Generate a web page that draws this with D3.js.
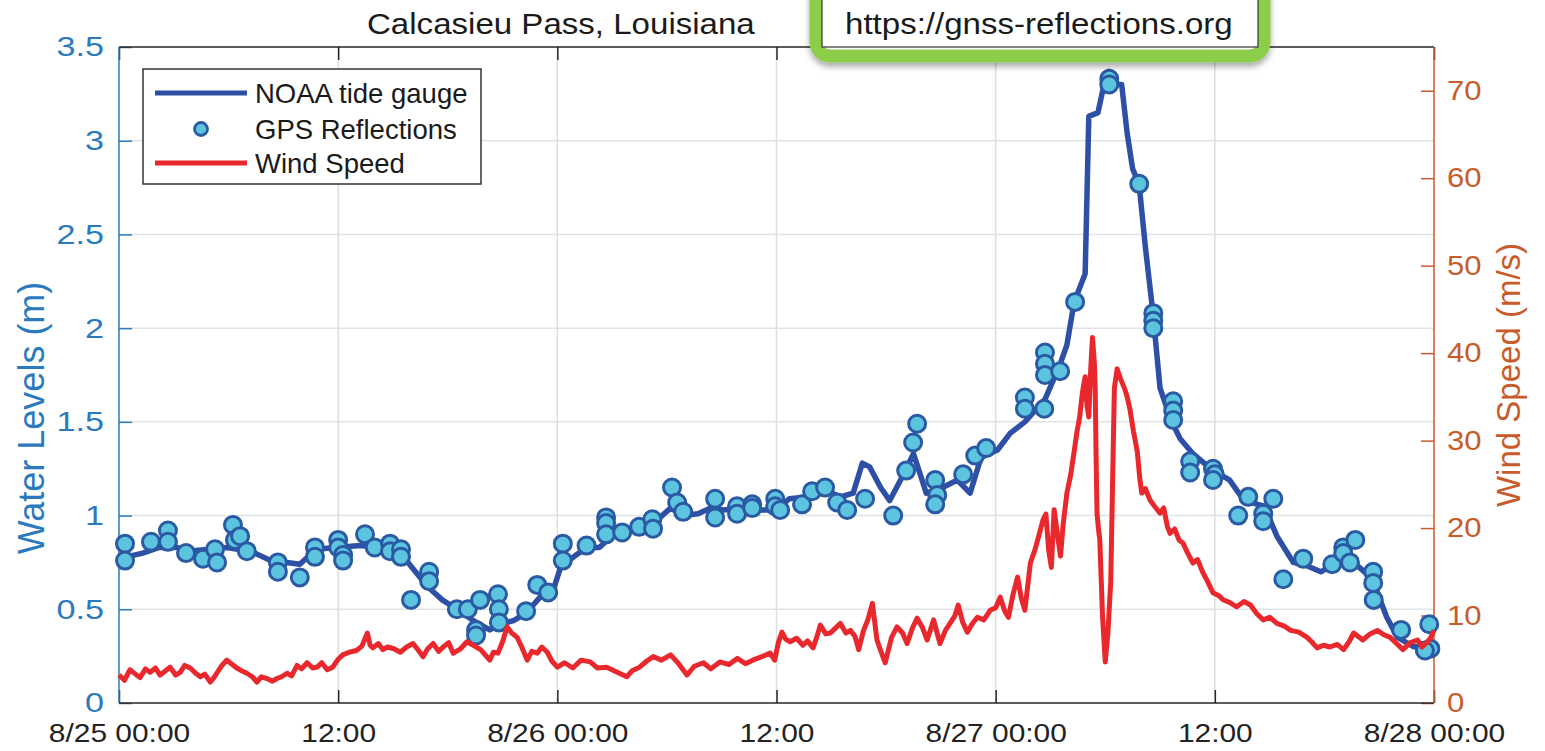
<!DOCTYPE html>
<html>
<head>
<meta charset="utf-8">
<script src="https://cdn.jsdelivr.net/npm/d3@7"></script>
<style>
  body { margin: 0; background: #fff; }
  text { font-family: "Liberation Sans", Arial, Helvetica, sans-serif; }
</style>
</head>
<body>
<div class="canvas"></div>
<script>
// ---- data (hours since 8/25 00:00) ----
const tideHours = [0, 1.3, 2.2, 3.2, 3.7, 5.0, 5.9, 7.2, 8.3, 9.2, 9.9, 10.8, 11.9, 13.2, 14.5, 15.4, 15.9, 16.9, 17.7, 18.5,
  19.4, 20.3, 20.9, 21.6, 22.3, 23.1, 23.8, 24.2, 24.9, 25.6, 26.3, 27.1, 28.5, 29.5, 30.2, 30.9, 31.7, 32.4, 33.1, 34.0,
  35.1, 36.0, 36.7, 37.8, 38.8, 39.5, 40.2, 40.7, 41.1, 41.7, 42.2, 42.9, 43.5, 43.9, 44.2, 45.1, 45.9, 46.6, 47.2, 48.1,
  48.8, 49.6, 50.7, 51.5, 51.9, 52.3, 52.9, 53.1, 53.6, 54.0, 54.2, 54.7, 54.9, 55.2, 55.5, 55.85, 56.2, 56.6, 57.0, 57.6,
  58.1, 58.8, 59.9, 60.8, 61.6, 62.7, 63.4, 64.3, 65.1, 65.8, 66.7, 67.6, 68.3, 68.9, 69.4, 70.0, 70.9, 72.0];
const tideLevel = [0.77, 0.80, 0.83, 0.83, 0.81, 0.82, 0.83, 0.81, 0.76, 0.75, 0.74, 0.82, 0.83, 0.84, 0.83, 0.80, 0.74, 0.62, 0.55, 0.50,
  0.44, 0.39, 0.42, 0.44, 0.48, 0.57, 0.61, 0.73, 0.78, 0.83, 0.83, 0.90, 0.94, 0.98, 1.04, 1.00, 1.01, 1.04, 1.03, 1.04,
  1.03, 1.03, 1.09, 1.10, 1.13, 1.10, 1.12, 1.28, 1.26, 1.15, 1.08, 1.21, 1.33, 1.21, 1.12, 1.15, 1.19, 1.12, 1.31, 1.35,
  1.44, 1.50, 1.62, 1.80, 1.91, 2.14, 2.29, 3.13, 3.15, 3.33, 3.37, 3.30, 3.30, 3.04, 2.85, 2.77, 2.43, 2.09, 1.68, 1.51,
  1.41, 1.33, 1.24, 1.19, 1.08, 1.05, 0.89, 0.75, 0.73, 0.70, 0.75, 0.75, 0.69, 0.59, 0.46, 0.35, 0.30, 0.30];

const gpsHours = [0.33, 0.33, 1.75, 2.68, 2.68, 3.67, 4.6, 5.26, 5.37, 6.24, 6.35, 6.63, 7.0, 8.7, 8.7, 9.9, 10.73, 10.73,
  12.0, 12.0, 12.27, 12.27, 13.47, 14.0, 14.84, 14.84, 15.44, 15.44, 15.99, 16.98, 16.98, 18.5, 19.1, 19.77, 19.55, 19.55,
  20.75, 20.8, 20.8, 22.29, 22.9, 23.5, 24.3, 24.3, 25.6, 26.67, 26.67, 26.67, 27.55, 28.48, 29.2, 29.24, 30.28, 30.56,
  30.89, 32.64, 32.64, 33.84, 33.84, 34.67, 34.67, 35.93, 35.93, 36.2, 37.4, 37.95, 38.66, 39.32, 39.87, 40.85, 42.39,
  43.1, 43.48, 43.7, 44.69, 44.8, 44.69, 46.22, 46.88, 47.48, 49.6, 49.6, 50.66, 50.7, 50.7, 50.7, 51.53, 52.35, 54.22,
  54.22, 55.86, 56.63, 56.63, 56.63, 57.72, 57.72, 57.72, 58.65, 58.65, 59.9, 60.0, 59.9, 61.28, 61.83, 62.65, 62.65,
  63.2, 63.75, 64.84, 66.43, 67.03, 67.03, 67.4, 67.69, 68.67, 68.67, 68.7, 70.2, 71.74, 71.8, 71.5];
const gpsLevel = [0.85, 0.76, 0.86, 0.92, 0.86, 0.80, 0.77, 0.82, 0.75, 0.95, 0.87, 0.89, 0.81, 0.75, 0.70, 0.67, 0.83, 0.78,
  0.87, 0.83, 0.79, 0.76, 0.90, 0.83, 0.85, 0.81, 0.82, 0.78, 0.55, 0.70, 0.65, 0.50, 0.50, 0.55, 0.39, 0.36,
  0.58, 0.50, 0.43, 0.49, 0.63, 0.59, 0.85, 0.76, 0.84, 0.99, 0.96, 0.90, 0.91, 0.94, 0.98, 0.93, 1.15, 1.07,
  1.02, 1.09, 0.99, 1.05, 1.01, 1.06, 1.04, 1.09, 1.05, 1.03, 1.06, 1.13, 1.15, 1.07, 1.03, 1.09, 1.00,
  1.24, 1.39, 1.49, 1.19, 1.11, 1.06, 1.22, 1.32, 1.36, 1.63, 1.57, 1.57, 1.87, 1.81, 1.75, 1.77, 2.14, 3.33,
  3.30, 2.77, 2.08, 2.04, 2.00, 1.61, 1.56, 1.51, 1.29, 1.23, 1.25, 1.22, 1.19, 1.00, 1.10, 1.01, 0.97,
  1.09, 0.66, 0.77, 0.74, 0.83, 0.80, 0.75, 0.87, 0.70, 0.64, 0.55, 0.39, 0.42, 0.29, 0.28];

const windHours = [0.0, 0.3, 0.6, 0.9, 1.15, 1.45, 1.7, 2.0, 2.25, 2.5, 2.8, 3.1, 3.35, 3.6, 3.9, 4.2, 4.45, 4.7, 5.0, 5.2,
  5.35, 5.6, 5.9, 6.2, 6.45, 6.7, 7.0, 7.3, 7.55, 7.8, 8.1, 8.4, 8.65, 8.9, 9.2, 9.45, 9.75, 10.0, 10.3, 10.6,
  10.85, 11.1, 11.4, 11.7, 12.0, 12.25, 12.6, 13.0, 13.3, 13.6, 13.75, 13.9, 14.2, 14.45, 14.7, 15.05, 15.4, 15.75, 16.1, 16.4,
  16.65, 16.9, 17.2, 17.5, 17.75, 18.05, 18.3, 18.7, 19.05, 19.4, 19.8, 20.05, 20.3, 20.5, 20.75, 21.0, 21.25, 21.5, 21.8, 22.05,
  22.35, 22.6, 22.9, 23.15, 23.45, 23.7, 24.0, 24.4, 24.85, 25.3, 25.8, 26.2, 26.7, 27.2, 27.8, 28.1, 28.5, 28.9, 29.25, 29.7,
  30.2, 30.6, 31.1, 31.5, 32.0, 32.4, 32.9, 33.4, 33.85, 34.3, 34.7, 35.2, 35.65, 35.9, 36.1, 36.3, 36.5, 36.75, 37.1, 37.45,
  37.7, 38.0, 38.2, 38.4, 38.7, 38.95, 39.2, 39.5, 39.8, 40.05, 40.3, 40.5, 40.75, 41.0, 41.25, 41.5, 41.7, 41.95, 42.3, 42.6,
  42.9, 43.15, 43.45, 43.7, 44.0, 44.25, 44.6, 44.95, 45.25, 45.5, 45.75, 45.95, 46.2, 46.45, 46.7, 47.0, 47.35, 47.7, 48.0, 48.25,
  48.5, 48.7, 48.95, 49.2, 49.4, 49.6, 49.9, 50.15, 50.45, 50.6, 50.75, 50.9, 51.05, 51.2, 51.4, 51.55, 51.7, 51.9, 52.1, 52.3,
  52.45, 52.6, 52.75, 52.9, 53.0, 53.1, 53.2, 53.3, 53.4, 53.45, 53.5, 53.55, 53.65, 53.7, 53.85, 54.0, 54.15, 54.3, 54.4, 54.5,
  54.65, 54.85, 55.05, 55.2, 55.35, 55.55, 55.75, 55.9, 56.0, 56.2, 56.45, 56.7, 57.0, 57.2, 57.4, 57.55, 57.8, 58.05, 58.25, 58.5,
  58.8, 59.05, 59.35, 59.6, 59.9, 60.2, 60.45, 60.8, 61.2, 61.6, 61.95, 62.3, 62.65, 63.0, 63.4, 63.8, 64.15, 64.6, 65.05, 65.3,
  65.6, 65.95, 66.3, 66.7, 67.05, 67.35, 67.6, 67.85, 68.1, 68.5, 68.9, 69.25, 69.6, 69.95, 70.3, 70.7, 71.1, 71.35, 71.6, 71.8,
  72.0];
const windSpeed = [3.2, 2.6, 3.8, 3.3, 2.9, 3.9, 3.5, 4.0, 3.2, 3.6, 4.1, 3.2, 3.5, 4.3, 4.0, 3.4, 3.0, 3.3, 2.4, 2.9,
  3.4, 4.2, 4.9, 4.4, 4.0, 3.7, 3.4, 3.0, 2.4, 3.0, 2.8, 2.5, 2.8, 3.0, 3.4, 3.1, 4.3, 3.9, 4.6, 4.0,
  4.1, 4.6, 3.8, 4.1, 5.0, 5.5, 5.8, 6.0, 6.5, 8.0, 6.6, 6.3, 6.8, 6.1, 6.4, 6.2, 5.8, 6.4, 6.8, 6.0,
  5.3, 6.2, 6.8, 5.9, 6.4, 6.9, 5.7, 6.2, 7.0, 6.6, 6.1, 5.5, 4.9, 5.8, 5.7, 7.0, 8.7, 8.0, 7.5, 6.4,
  4.9, 5.9, 5.7, 6.4, 5.8, 4.8, 4.1, 4.6, 4.0, 4.9, 4.7, 4.0, 4.1, 3.6, 3.0, 3.7, 4.1, 4.8, 5.3, 4.9,
  5.5, 4.6, 3.2, 4.2, 4.6, 3.9, 4.7, 4.4, 5.1, 4.5, 4.9, 5.3, 5.7, 4.9, 6.9, 8.1, 7.3, 7.0, 7.4, 6.6,
  7.1, 6.3, 7.5, 8.9, 7.9, 8.0, 8.5, 9.1, 8.0, 8.3, 7.6, 6.1, 8.2, 9.5, 11.4, 7.2, 6.0, 4.6, 7.5, 8.7,
  8.0, 6.8, 8.6, 9.7, 8.6, 7.2, 9.5, 6.8, 8.3, 9.1, 9.9, 11.2, 9.2, 8.1, 9.0, 9.8, 9.5, 10.6, 10.9, 12.1,
  10.5, 9.8, 12.4, 14.4, 12.0, 10.6, 16.0, 17.5, 19.8, 21.0, 21.6, 17.5, 15.5, 22.1, 19.0, 16.8, 20.5, 24.0, 26.0, 28.8,
  31.0, 32.7, 35.5, 37.3, 34.0, 32.7, 38.0, 41.8, 39.0, 36.0, 28.0, 21.6, 19.5, 18.7, 10.0, 4.7, 8.1, 13.9, 25.0, 36.0,
  38.2, 37.0, 36.0, 35.0, 33.6, 31.0, 28.8, 25.5, 24.0, 24.5, 23.2, 22.5, 21.7, 22.3, 20.2, 19.4, 19.9, 18.6, 18.3, 17.2,
  16.0, 16.4, 14.9, 13.9, 12.6, 12.3, 11.8, 11.5, 11.0, 11.6, 11.2, 10.2, 9.5, 9.8, 9.1, 8.8, 8.3, 8.1, 7.5, 7.0,
  6.3, 6.6, 6.4, 6.7, 6.1, 7.0, 8.0, 7.6, 7.2, 7.9, 8.3, 7.8, 7.5, 6.8, 6.1, 6.9, 7.2, 6.4, 6.9, 7.4,
  8.3];

const xTickHours = [0, 12, 24, 36, 48, 60, 72];
const leftTicks = [0, 0.5, 1, 1.5, 2, 2.5, 3, 3.5];
const rightTicks = [0, 10, 20, 30, 40, 50, 60, 70];

const leftColor = '#2b7abd';
const rightColor = '#c95b2b';

const t0 = new Date(2020, 7, 25, 0, 0);
const toDate = h => new Date(t0.getTime() + h * 3600 * 1000);

const margin = { top: 47, right: 111, bottom: 48, left: 119 };
const graphWidth = 1545 - margin.left - margin.right;
const graphHeight = 751 - margin.top - margin.bottom;

const svg = d3.select('.canvas')
    .append('svg')
    .attr('width', 1545)
    .attr('height', 751)
    .style('display', 'block');

svg.append('rect').attr('width', 1545).attr('height', 751).attr('fill', '#fff');

const graph = svg.append('g')
    .attr('transform', `translate(${margin.left}, ${margin.top})`);

// widen glyphs a bit (reference text is horizontally stretched)
const stretch = (sel, k) => sel.each(function() {
    const w = this.getComputedTextLength();
    d3.select(this).attr('textLength', w * k).attr('lengthAdjust', 'spacingAndGlyphs');
});

// scales
const x = d3.scaleTime().domain([toDate(0), toDate(72)]).range([0, graphWidth]);
const yL = d3.scaleLinear().domain([0, 3.5]).range([graphHeight, 0]);
const yR = d3.scaleLinear().domain([0, 75]).range([graphHeight, 0]);

// grid
graph.append('g').selectAll('line')
    .data(leftTicks.slice(1, -1))
    .enter().append('line')
    .attr('x1', 0).attr('x2', graphWidth)
    .attr('y1', d => yL(d)).attr('y2', d => yL(d))
    .attr('stroke', '#dfe3e8').attr('stroke-width', 1.5);
graph.append('g').selectAll('line')
    .data(xTickHours.slice(1, -1))
    .enter().append('line')
    .attr('x1', d => x(toDate(d))).attr('x2', d => x(toDate(d)))
    .attr('y1', 0).attr('y2', graphHeight)
    .attr('stroke', '#dedede').attr('stroke-width', 1.5);

// axes
const fmtDay = d3.timeFormat('%-m/%d %H:%M');
const fmtHour = d3.timeFormat('%H:%M');
const xAxis = d3.axisBottom(x)
    .tickValues(xTickHours.map(toDate))
    .tickSize(-13)
    .tickPadding(21)
    .tickFormat(d => d.getHours() === 0 ? fmtDay(d) : fmtHour(d));
const xAxisGroup = graph.append('g')
    .attr('transform', `translate(0, ${graphHeight})`)
    .call(xAxis);
xAxisGroup.select('.domain').remove();
xAxisGroup.selectAll('line').attr('stroke', '#262626').attr('stroke-width', 1.5);
xAxisGroup.selectAll('text')
    .attr('fill', '#222')
    .attr('font-size', 26)
    .style('font-size', '26px');
stretch(xAxisGroup.selectAll('text'), 1.15);

const xTopGroup = graph.append('g')
    .call(d3.axisTop(x).tickValues(xTickHours.map(toDate)).tickSize(-13).tickFormat(''));
xTopGroup.select('.domain').remove();
xTopGroup.selectAll('line').attr('stroke', '#262626').attr('stroke-width', 1.5);

const yAxisGroup = graph.append('g')
    .call(d3.axisLeft(yL).tickValues(leftTicks).tickSize(-13).tickPadding(15).tickFormat(d3.format('')));
yAxisGroup.select('.domain').remove();
yAxisGroup.selectAll('line').attr('stroke', leftColor).attr('stroke-width', 1.5);
yAxisGroup.selectAll('text').attr('fill', leftColor).style('font-size', '28px');
stretch(yAxisGroup.selectAll('text'), 1.22);

const yRightGroup = graph.append('g')
    .attr('transform', `translate(${graphWidth}, 0)`)
    .call(d3.axisRight(yR).tickValues(rightTicks).tickSize(-13).tickPadding(13));
yRightGroup.select('.domain').remove();
yRightGroup.selectAll('line').attr('stroke', rightColor).attr('stroke-width', 1.5);
yRightGroup.selectAll('text').attr('fill', rightColor).style('font-size', '27px');
stretch(yRightGroup.selectAll('text'), 1.15);

// box
graph.append('line').attr('x1', 0).attr('x2', graphWidth).attr('y1', 0).attr('y2', 0)
    .attr('stroke', '#262626').attr('stroke-width', 1.5);
graph.append('line').attr('x1', 0).attr('x2', graphWidth).attr('y1', graphHeight).attr('y2', graphHeight)
    .attr('stroke', '#262626').attr('stroke-width', 1.5);
graph.append('line').attr('x1', 0).attr('x2', 0).attr('y1', 0).attr('y2', graphHeight)
    .attr('stroke', leftColor).attr('stroke-width', 1.5);
graph.append('line').attr('x1', graphWidth).attr('x2', graphWidth).attr('y1', 0).attr('y2', graphHeight)
    .attr('stroke', rightColor).attr('stroke-width', 1.5);

// axis titles
svg.append('text')
    .attr('transform', 'translate(44, 418) rotate(-90)')
    .attr('text-anchor', 'middle')
    .attr('fill', leftColor)
    .style('font-size', '36px')
    .text('Water Levels (m)');
svg.append('text')
    .attr('transform', `translate(1520, ${margin.top + graphHeight / 2}) rotate(-90)`)
    .attr('text-anchor', 'middle')
    .attr('fill', rightColor)
    .style('font-size', '33px')
    .text('Wind Speed (m/s)');

// tide gauge line
const tide = tideHours.map((h, i) => ({ h, v: tideLevel[i] }));
const tideLine = d3.line()
    .x(d => x(toDate(d.h)))
    .y(d => yL(d.v));
graph.append('path')
    .datum(tide)
    .attr('fill', 'none')
    .attr('stroke', '#2e4fa6')
    .attr('stroke-width', 5.5)
    .attr('stroke-linejoin', 'round')
    .attr('d', tideLine);

// GPS reflections
const gps = gpsHours.map((h, i) => ({ h, v: gpsLevel[i] }));
graph.append('g').selectAll('circle')
    .data(gps)
    .enter().append('circle')
    .attr('cx', d => x(toDate(d.h)))
    .attr('cy', d => yL(d.v))
    .attr('r', 8.5)
    .attr('fill', '#5cc4de')
    .attr('stroke', '#2a5aa3')
    .attr('stroke-width', 3);

// wind speed
const wind = windHours.map((h, i) => ({ h, v: windSpeed[i] }));
const windLine = d3.line()
    .x(d => x(toDate(d.h)))
    .y(d => yR(d.v));
graph.append('path')
    .datum(wind)
    .attr('fill', 'none')
    .attr('stroke', '#e8282d')
    .attr('stroke-width', 5)
    .attr('stroke-linejoin', 'round')
    .attr('d', windLine);

// legend
const legend = svg.append('g');
legend.append('rect')
    .attr('x', 143).attr('y', 69).attr('width', 338).attr('height', 115)
    .attr('fill', '#fff').attr('stroke', '#333').attr('stroke-width', 1.5);
const rows = [
    { label: 'NOAA tide gauge', y: 93, type: 'line', color: '#2e4fa6' },
    { label: 'GPS Reflections', y: 129, type: 'dot' },
    { label: 'Wind Speed', y: 163, type: 'line', color: '#e8282d' }
];
rows.forEach(r => {
    if (r.type === 'line') {
        legend.append('line')
            .attr('x1', 155).attr('x2', 247).attr('y1', r.y).attr('y2', r.y)
            .attr('stroke', r.color).attr('stroke-width', 5);
    } else {
        legend.append('circle')
            .attr('cx', 201).attr('cy', r.y).attr('r', 6.5)
            .attr('fill', '#5cc4de').attr('stroke', '#2a5aa3').attr('stroke-width', 2.8);
    }
    legend.append('text')
        .attr('x', 255).attr('y', r.y)
        .attr('dy', '0.36em')
        .attr('fill', '#1a1a1a')
        .style('font-size', '27.5px')
        .text(r.label);
});

// title
const title = svg.append('text')
    .attr('x', 367).attr('y', 34)
    .attr('fill', '#1a1a1a')
    .style('font-size', '29px')
    .text('Calcasieu Pass, Louisiana');
stretch(title, 1.14);

// url badge
const defs = svg.append('defs');
const shadow = defs.append('filter').attr('id', 'shadow')
    .attr('x', '-10%').attr('y', '-10%').attr('width', '120%').attr('height', '140%');
shadow.append('feDropShadow')
    .attr('dx', 0).attr('dy', 4).attr('stdDeviation', 3)
    .attr('flood-color', '#000').attr('flood-opacity', 0.35);
svg.append('rect')
    .attr('x', 816).attr('y', -30).attr('width', 448).attr('height', 86)
    .attr('rx', 14)
    .attr('fill', '#fff')
    .attr('stroke', '#8cce4a')
    .attr('stroke-width', 13)
    .attr('filter', 'url(#shadow)');
svg.append('rect')
    .attr('x', 822).attr('y', -5).attr('width', 436).attr('height', 52)
    .attr('fill', '#fff').attr('stroke', '#333').attr('stroke-width', 1.2);
const url = svg.append('text')
    .attr('x', 845).attr('y', 34)
    .attr('fill', '#1a1a1a')
    .style('font-size', '29px')
    .text('https://gnss-reflections.org');
stretch(url, 1.14);
</script>
</body>
</html>
